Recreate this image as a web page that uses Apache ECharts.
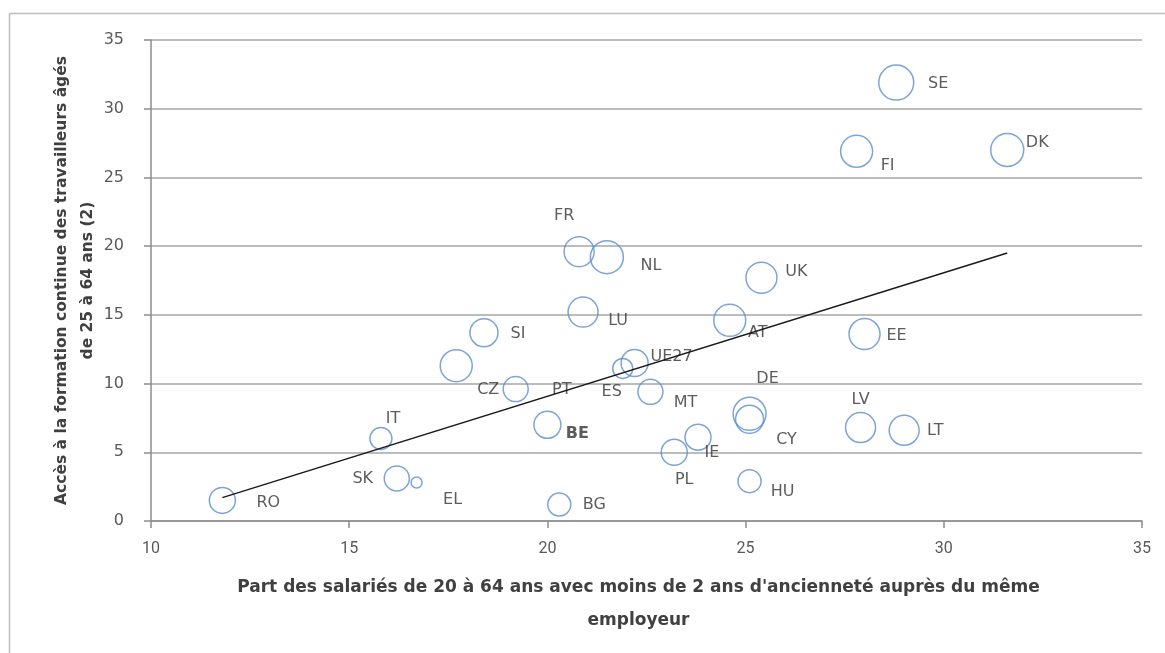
<!DOCTYPE html>
<html>
<head>
<meta charset="utf-8">
<script src="https://cdn.jsdelivr.net/npm/echarts@6/dist/echarts.min.js"></script>
<style>
  html, body {margin: 0; padding: 0; background: #fff;}
  #chart {width: 1165px; height: 653px;}
</style>
</head>
<body>
<div id="chart"></div>
<script>
// pays et valeurs
let pays = ['RO', 'IT', 'SK', 'EL', 'CZ', 'SI', 'PT', 'BE', 'BG', 'FR', 'LU', 'NL', 'ES', 'UE27',
  'MT', 'PL', 'IE', 'AT', 'DE', 'CY', 'HU', 'UK', 'FI', 'LV', 'EE', 'LT', 'SE', 'DK'];
// part des salariés avec moins de 2 ans d'ancienneté
let anciennete = [11.8, 15.8, 16.2, 16.7, 17.7, 18.4, 19.2, 20.0, 20.3, 20.8, 20.9, 21.5, 21.9, 22.2,
  22.6, 23.2, 23.8, 24.6, 25.1, 25.1, 25.1, 25.4, 27.8, 27.9, 28.0, 29.0, 28.8, 31.6];
// accès à la formation continue des 25-64 ans
let formation = [1.5, 6.0, 3.1, 2.8, 11.3, 13.7, 9.6, 7.0, 1.2, 19.6, 15.2, 19.2, 11.1, 11.5,
  9.4, 5.0, 6.1, 14.6, 7.8, 7.4, 2.9, 17.7, 26.9, 6.8, 13.6, 6.6, 31.9, 27.0];
// taille des bulles
let taille = [26, 22, 25, 11, 32, 28, 25, 27, 23, 30, 30, 33, 20, 27,
  25, 26, 26, 32, 33, 28, 23, 31, 32, 30, 31, 30, 35, 33];
// droite de tendance
let tendanceX = [11.8, 31.6];
let tendanceY = [1.7, 19.5];

// décalage des étiquettes par rapport au centre des bulles
let decalages = {
  RO: [46, 2], IT: [12, -20], SK: [-34, 0], EL: [36, 17], CZ: [32, 24], SI: [34, 1], PT: [46, 1],
  BE: [30, 9], BG: [35, 0], FR: [-15, -36], LU: [35, 9], NL: [44, 9], ES: [-11, 23], UE27: [37, -6],
  MT: [35, 11], PL: [10, 28], IE: [14, 16], AT: [28, 12], DE: [18, -35], CY: [37, 21], HU: [33, 11],
  UK: [35, -6], FI: [31, 15], LV: [0, -28], EE: [32, 2], LT: [31, 1], SE: [42, 1], DK: [30, -7]
};
let gras = ['BE'];

let points = pays.map((p, i) => ({
  name: p,
  value: [anciennete[i], formation[i], taille[i]],
  label: {offset: decalages[p], fontWeight: gras.includes(p) ? 'bold' : 'normal'}
}));

let grisAxe = '#8c8c8c';
let option = {
  backgroundColor: '#fff',
  animation: false,
  textStyle: {fontFamily: 'DejaVu Sans'},
  grid: {left: 151, right: 23, top: 40, bottom: 132},
  xAxis: {
    type: 'value', min: 10, max: 35, interval: 5,
    name: 'Part des salariés de 20 à 64 ans avec moins de 2 ans d\'ancienneté auprès du même\nemployeur',
    nameLocation: 'middle', nameGap: 50,
    nameTextStyle: {fontSize: 17, fontWeight: 'bold', color: '#404040', lineHeight: 33, padding: [0, 16, 0, 0]},
    axisLine: {lineStyle: {color: grisAxe, width: 1.5}},
    axisTick: {show: true, length: 7, lineStyle: {color: grisAxe, width: 1.5}},
    axisLabel: {fontSize: 16, color: '#595959', margin: 20, fontFamily: 'Roboto'},
    splitLine: {show: false}
  },
  yAxis: {
    type: 'value', min: 0, max: 35, interval: 5,
    name: 'Accès à la formation continue des travailleurs âgés\nde 25 à 64 ans (2)',
    nameLocation: 'middle', nameRotate: 90, nameGap: 50, nameMoveOverlap: false,
    nameTextStyle: {fontSize: 15.5, fontWeight: 'bold', color: '#404040', lineHeight: 26},
    axisLine: {show: true, lineStyle: {color: grisAxe, width: 1.5}},
    axisTick: {show: true, length: 7, lineStyle: {color: grisAxe, width: 1.5}},
    axisLabel: {fontSize: 16, color: '#595959', margin: 27},
    splitLine: {lineStyle: {color: '#a6a6a6', width: 1.5}}
  },
  graphic: [
    {type: 'line', shape: {x1: 9.5, y1: 13.5, x2: 1165, y2: 13.5}, style: {stroke: '#bdbdbd', lineWidth: 1.5}},
    {type: 'line', shape: {x1: 9.5, y1: 13.5, x2: 9.5, y2: 653}, style: {stroke: '#bdbdbd', lineWidth: 1.5}}
  ],
  series: [
    {
      type: 'scatter',
      data: points,
      symbolSize: v => v[2],
      itemStyle: {color: 'rgba(255,255,255,0)', borderColor: '#5b8dcf', borderWidth: 1.5},
      label: {show: true, position: 'inside', formatter: '{b}', fontSize: 16, color: '#333'},
      z: 2
    },
    {
      type: 'line',
      data: tendanceX.map((x, i) => [x, tendanceY[i]]),
      symbol: 'none',
      lineStyle: {color: '#1a1a1a', width: 1.5},
      z: 3
    }
  ]
};

let chart = echarts.init(document.getElementById('chart'));
chart.setOption(option);
</script>
</body>
</html>
